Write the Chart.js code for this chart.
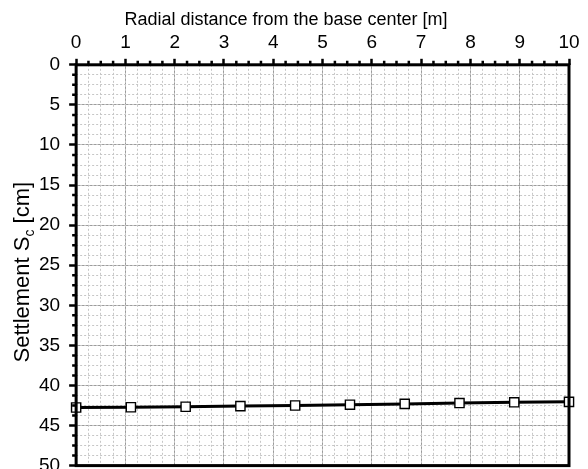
<!DOCTYPE html>
<html>
<head>
<meta charset="utf-8">
<script src="https://cdn.jsdelivr.net/npm/chart.js@4/dist/chart.umd.min.js"></script>
<style>
  html,body{margin:0;padding:0;background:#fff;overflow:hidden;}
  canvas{display:block;}
</style>
</head>
<body>
<canvas id="chart" width="588" height="486"></canvas>
<script>
// values
const distance = [0, 1.111, 2.222, 3.333, 4.444, 5.556, 6.667, 7.778, 8.889, 10];
const settlement = [42.75, 42.72, 42.66, 42.58, 42.5, 42.4, 42.3, 42.2, 42.1, 42.05];
const xTickLabels = [0, 1, 2, 3, 4, 5, 6, 7, 8, 9, 10];
const yTickLabels = [0, 5, 10, 15, 20, 25, 30, 35, 40, 45, 50];
const xTitle = 'Radial distance from the base center [m]';

const FONT = "'Liberation Sans', Arial, sans-serif";
const isOn = (list, v) => list.some(t => Math.abs(t - v) < 1e-6);

// frame, short minor ticks and the axis titles (y one has a subscript)
const framePlugin = {
  id: 'frame',
  afterDraw(chart){
    const {ctx, chartArea:a, scales} = chart;
    ctx.save();
    ctx.strokeStyle = '#000';
    ctx.lineWidth = 2.5;
    ctx.beginPath();
    scales.x.ticks.forEach(t => {
      if(isOn(xTickLabels, t.value)) return;
      const px = scales.x.getPixelForValue(t.value);
      ctx.moveTo(px, a.top); ctx.lineTo(px, a.top - 4);
    });
    scales.y.ticks.forEach(t => {
      if(isOn(yTickLabels, t.value)) return;
      const py = scales.y.getPixelForValue(t.value);
      ctx.moveTo(a.left, py); ctx.lineTo(a.left - 4, py);
    });
    ctx.stroke();

    ctx.lineWidth = 3;
    ctx.strokeRect(a.left, a.top, a.right - a.left, a.bottom - a.top);

    ctx.fillStyle = '#000';
    ctx.textBaseline = 'alphabetic';
    ctx.textAlign = 'center';
    ctx.font = '18px ' + FONT;
    ctx.fillText(xTitle, 286, 25);

    ctx.textAlign = 'left';
    ctx.translate(29, (a.top + a.bottom) / 2 + 7);
    ctx.rotate(-Math.PI / 2);
    const p1 = 'Settlement S', p2 = 'c', p3 = ' [cm]';
    ctx.font = '22px ' + FONT;
    const w1 = ctx.measureText(p1).width, w3 = ctx.measureText(p3).width;
    ctx.font = '14px ' + FONT;
    const w2 = ctx.measureText(p2).width;
    let x = -(w1 + w2 + w3) / 2;
    ctx.font = '22px ' + FONT;
    ctx.fillText(p1, x, 0); x += w1;
    ctx.font = '14px ' + FONT;
    ctx.fillText(p2, x, 5); x += w2;
    ctx.font = '22px ' + FONT;
    ctx.fillText(p3, x, 0);
    ctx.restore();
  }
};

new Chart(document.getElementById('chart'), {
  type: 'line',
  data: {
    datasets: [{
      data: distance.map((d, i) => ({x: d, y: settlement[i]})),
      borderColor: '#000',
      borderWidth: 3,
      pointStyle: 'rect',
      pointRadius: 6.5,
      pointBackgroundColor: '#fff',
      pointBorderColor: '#000',
      pointBorderWidth: 1.4,
      tension: 0,
      clip: false
    }]
  },
  options: {
    responsive: false,
    animation: false,
    events: [],
    layout: {padding: {left: 30, right: 19, top: 26, bottom: 0}},
    plugins: {legend: {display: false}, tooltip: {enabled: false}},
    scales: {
      x: {
        type: 'linear', position: 'top', min: 0, max: 10,
        ticks: {stepSize: 0.25, autoSkip: false, maxRotation: 0, color: '#000', padding: 5,
                font: {family: FONT, size: 19},
                callback: v => isOn(xTickLabels, v) ? String(Math.round(v)) : ''},
        grid: {
          color: c => isOn(xTickLabels, c.tick.value) ? '#9a9a9a' : 'rgba(0,0,0,0)',
          tickColor: c => isOn(xTickLabels, c.tick.value) ? '#000' : 'rgba(0,0,0,0)',
          lineWidth: 1, tickWidth: 2.5, tickLength: 6
        },
        border: {display: false}
      },
      x2: {
        type: 'linear', position: 'bottom', min: 0, max: 10,
        ticks: {display: false, stepSize: 0.25},
        grid: {color: '#c6c6c6', lineWidth: 1, drawTicks: false},
        border: {display: false, dash: [2, 2]}
      },
      y: {
        type: 'linear', position: 'left', min: 0, max: 50, reverse: true,
        ticks: {stepSize: 1.25, autoSkip: false, color: '#000', padding: 9,
                font: {family: FONT, size: 19},
                callback: v => isOn(yTickLabels, v) ? String(Math.round(v)) : ''},
        grid: {
          color: c => isOn(yTickLabels, c.tick.value) ? '#9a9a9a' : 'rgba(0,0,0,0)',
          tickColor: c => isOn(yTickLabels, c.tick.value) ? '#000' : 'rgba(0,0,0,0)',
          lineWidth: 1, tickWidth: 2.5, tickLength: 7
        },
        border: {display: false}
      },
      y2: {
        type: 'linear', position: 'right', min: 0, max: 50, reverse: true,
        ticks: {display: false, stepSize: 1.25},
        grid: {color: '#c6c6c6', lineWidth: 1, drawTicks: false},
        border: {display: false, dash: [2, 2]}
      }
    }
  },
  plugins: [framePlugin]
});
</script>
</body>
</html>
